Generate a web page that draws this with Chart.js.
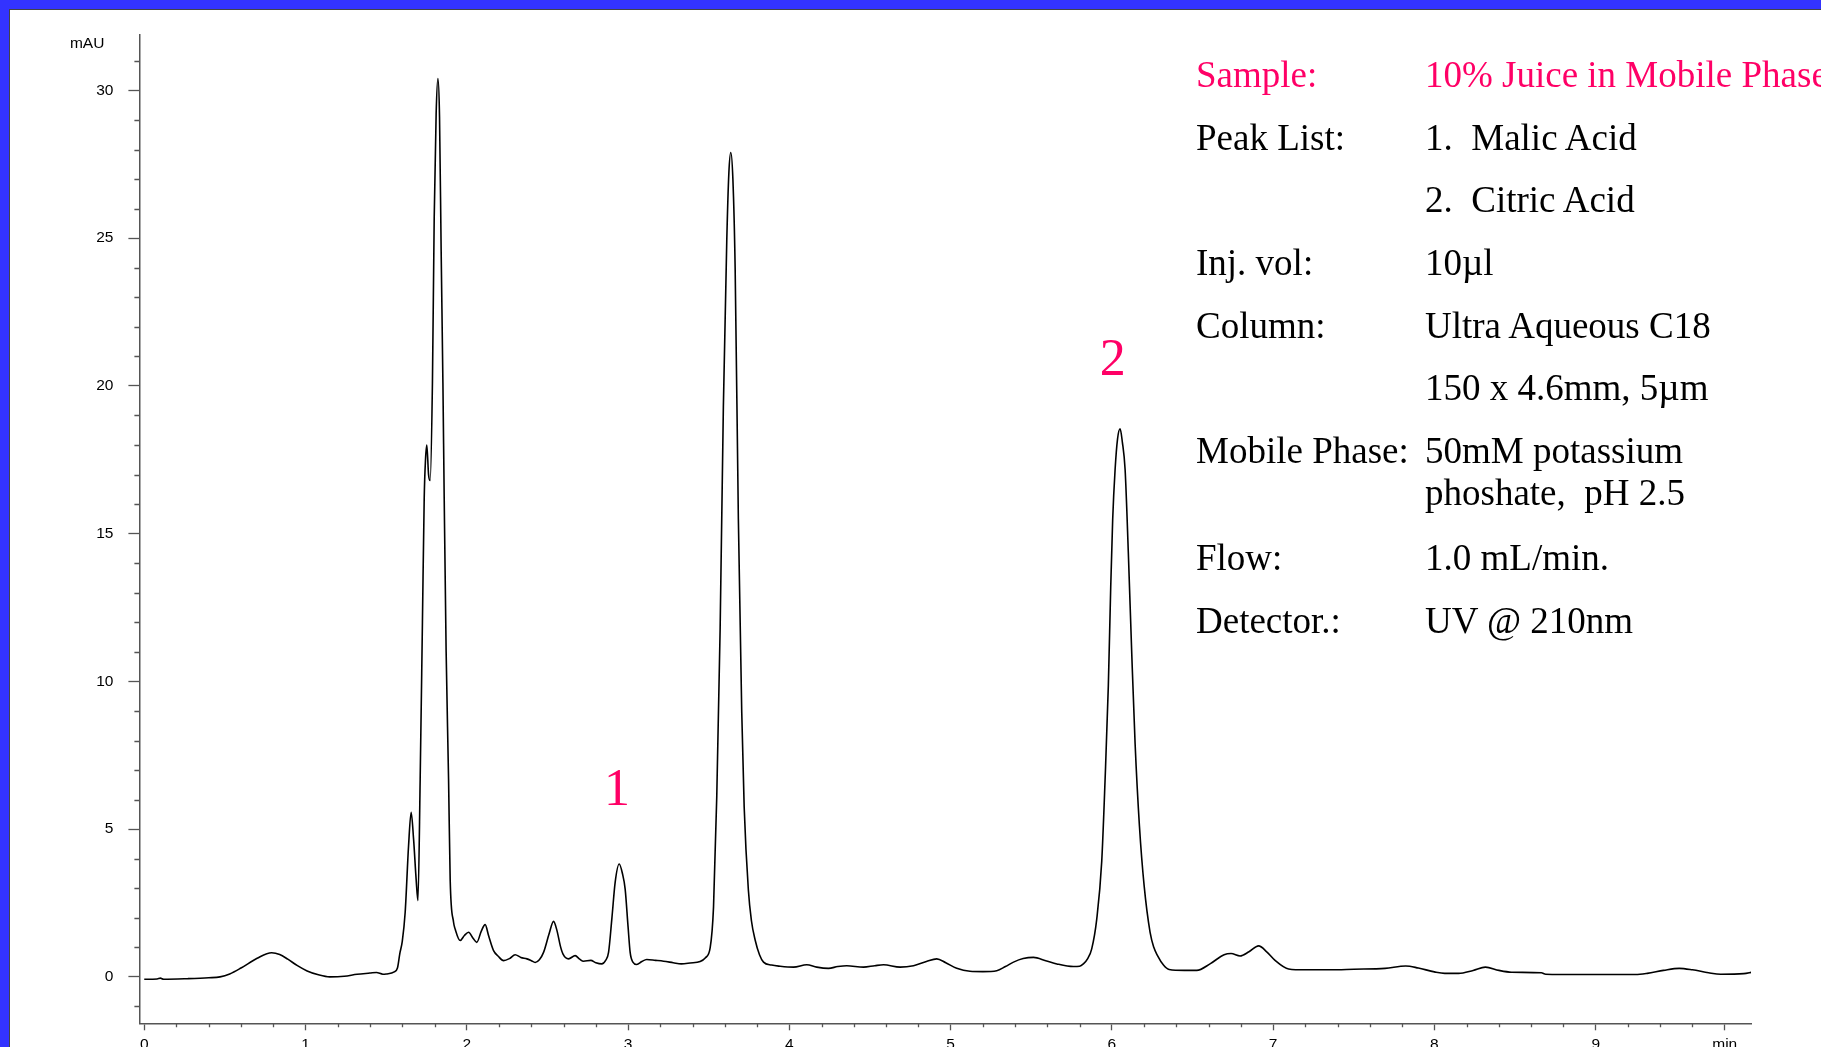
<!DOCTYPE html>
<html>
<head>
<meta charset="utf-8">
<script src="https://cdn.jsdelivr.net/npm/chart.js@4.4.1/dist/chart.umd.min.js"></script>
<style>
  html, body { margin: 0; padding: 0; width: 1821px; height: 1047px; overflow: hidden; background: #3333ff; }
  #panel { position: absolute; left: 9px; top: 9px; width: 1830px; height: 1060px; background: #fff;
           border-top: 1px solid #444; border-left: 1px solid #444; }
  #wrap { position: absolute; left: 0; top: 0; width: 1821px; height: 1075px; }
  .info { position: absolute; font-family: "Liberation Serif", "Times New Roman", serif; font-size: 37px;
          line-height: 37px; white-space: pre; color: #000; }
  .pink { color: #ff0066; }
</style>
</head>
<body>
<div id="panel"></div>
<div id="wrap"><canvas id="grafico" width="1821" height="1075"></canvas></div>
<div id="info"></div>
<script>
// retention time (min) and detector signal (mAU)
const tiempo = [
  0.00, 0.08, 0.10, 0.12, 0.27, 0.40, 0.47, 0.53, 0.60, 0.70, 0.79, 0.84, 0.89, 0.95, 1.01, 1.08, 1.15, 1.24, 1.32, 1.40,
  1.44, 1.48, 1.50, 1.55, 1.57, 1.585, 1.60, 1.618, 1.639, 1.655, 1.67, 1.686, 1.697, 1.711, 1.725, 1.736, 1.744, 1.752, 1.763, 1.773,
  1.787, 1.798, 1.810, 1.821, 1.831, 1.841, 1.852, 1.860, 1.872, 1.887, 1.897, 1.918, 1.928, 1.959, 1.985, 2.011, 2.040, 2.062, 2.090, 2.114,
  2.135, 2.166, 2.195, 2.228, 2.265, 2.300, 2.335, 2.373, 2.400, 2.424, 2.450, 2.476, 2.510, 2.538, 2.560, 2.580, 2.596, 2.631, 2.672, 2.700,
  2.724, 2.769, 2.800, 2.837, 2.860, 2.879, 2.900, 2.920, 2.945, 2.965, 2.982, 3.000, 3.013, 3.030, 3.054, 3.085, 3.116, 3.17, 3.22, 3.28,
  3.33, 3.385, 3.447, 3.48, 3.509, 3.530, 3.550, 3.571, 3.591, 3.612, 3.625, 3.637, 3.650, 3.664, 3.684, 3.705, 3.720, 3.746, 3.765, 3.788,
  3.815, 3.84, 3.89, 3.943, 4.026, 4.108, 4.17, 4.243, 4.30, 4.356, 4.46, 4.53, 4.584, 4.687, 4.77, 4.85, 4.914, 4.97, 5.038, 5.12,
  5.20, 5.286, 5.34, 5.39, 5.45, 5.514, 5.59, 5.659, 5.761, 5.800, 5.823, 5.850, 5.875, 5.906, 5.937, 5.958, 5.978, 5.993, 6.005, 6.020,
  6.035, 6.051, 6.065, 6.082, 6.102, 6.123, 6.144, 6.171, 6.200, 6.237, 6.26, 6.283, 6.32, 6.355, 6.45, 6.526, 6.611, 6.696, 6.739, 6.795,
  6.85, 6.910, 6.96, 7.01, 7.096, 7.20, 7.353, 7.50, 7.694, 7.822, 7.90, 8.00, 8.064, 8.15, 8.24, 8.316, 8.40, 8.478, 8.663, 8.69,
  8.90, 9.062, 9.247, 9.32, 9.42, 9.518, 9.60, 9.70, 9.775, 9.918, 9.969
];
const señal = [
  -0.08, -0.07, -0.04, -0.08, -0.06, -0.03, 0.00, 0.10, 0.30, 0.63, 0.82, 0.76, 0.60, 0.38, 0.20, 0.07, 0.00, 0.02, 0.09, 0.13,
  0.15, 0.09, 0.10, 0.17, 0.30, 0.80, 1.20, 2.19, 4.44, 5.57, 4.67, 3.30, 2.58, 6.70, 12.0, 16.2, 17.5, 18.0, 17.0, 16.8,
  20.1, 25.7, 29.2, 30.4, 29.1, 24.6, 20.1, 16.2, 11.0, 6.7, 3.3, 1.85, 1.62, 1.23, 1.40, 1.51, 1.30, 1.17, 1.55, 1.77,
  1.40, 0.89, 0.70, 0.55, 0.62, 0.75, 0.66, 0.61, 0.55, 0.49, 0.58, 0.83, 1.45, 1.88, 1.55, 1.05, 0.78, 0.61, 0.72, 0.60,
  0.53, 0.56, 0.48, 0.44, 0.55, 0.83, 2.0, 3.2, 3.82, 3.5, 2.97, 1.7, 0.83, 0.50, 0.42, 0.52, 0.59, 0.56, 0.53, 0.48,
  0.44, 0.47, 0.52, 0.65, 0.98, 2.37, 6.1, 11.8, 19.3, 24.9, 27.2, 27.9, 27.0, 24.0, 15.5, 8.95, 5.75, 2.94, 1.9, 1.25,
  0.75, 0.50, 0.40, 0.36, 0.33, 0.41, 0.33, 0.29, 0.35, 0.38, 0.33, 0.38, 0.41, 0.33, 0.38, 0.52, 0.61, 0.48, 0.29, 0.19,
  0.18, 0.21, 0.35, 0.50, 0.62, 0.66, 0.55, 0.44, 0.35, 0.36, 0.44, 0.62, 0.95, 1.95, 3.9, 6.69, 9.85, 13.23, 15.48, 17.17,
  18.2, 18.55, 18.1, 17.17, 14.36, 10.98, 7.9, 5.1, 3.09, 1.51, 1.0, 0.72, 0.40, 0.25, 0.22, 0.22, 0.45, 0.75, 0.79, 0.71,
  0.85, 1.05, 0.85, 0.57, 0.27, 0.24, 0.24, 0.26, 0.29, 0.37, 0.30, 0.17, 0.12, 0.12, 0.22, 0.33, 0.22, 0.16, 0.14, 0.09,
  0.08, 0.08, 0.08, 0.12, 0.22, 0.29, 0.24, 0.14, 0.09, 0.11, 0.16
];

// peak numbers: label, time, height of the label baseline
const picos = ['1', '2'];
const picosTiempo = [2.932, 6.005];
const picosAltura = [5.82, 20.37];

// method details shown at the right
const etiquetas = ['Sample:', 'Peak List:', '', 'Inj. vol:', 'Column:', '', 'Mobile Phase:', '', 'Flow:', 'Detector.:'];
const valores = ['10% Juice in Mobile Phase', '1.  Malic Acid', '2.  Citric Acid', '10µl', 'Ultra Aqueous C18',
  '150 x 4.6mm, 5µm', '50mM potassium', 'phoshate,  pH 2.5', '1.0 mL/min.', 'UV @ 210nm'];
const lineasBase = [87, 149.5, 212, 275, 337.5, 400, 462.5, 505, 570, 632.5];

const info = document.getElementById('info');
etiquetas.forEach((txt, i) => {
  const top = (lineasBase[i] - 31) + 'px';
  const clase = i === 0 ? 'info pink' : 'info';
  if (txt) info.insertAdjacentHTML('beforeend', `<div class="${clase}" style="left:1196px;top:${top}">${txt}</div>`);
  info.insertAdjacentHTML('beforeend', `<div class="${clase}" style="left:1425px;top:${top}">${valores[i]}</div>`);
});

const esEntero = v => Math.abs(v - Math.round(v)) < 1e-6;
const esMayorX = v => esEntero(v) || Math.abs(v - 9.8) < 1e-6;
const esMayorY = v => esEntero(v / 5);
const colorEje = '#555';

// minor tick marks, peak numbers and the unit label
const extras = {
  id: 'extras',
  afterDraw(chart) {
    const {ctx, chartArea, scales: {x, y}} = chart;
    ctx.save();
    ctx.strokeStyle = colorEje;
    ctx.lineWidth = 1.3;
    ctx.beginPath();
    x.ticks.forEach(t => {
      if (esMayorX(t.value)) return;
      const px = Math.round(x.getPixelForValue(t.value)) + 0.5;
      ctx.moveTo(px, chartArea.bottom);
      ctx.lineTo(px, chartArea.bottom + 4);
    });
    y.ticks.forEach(t => {
      if (esMayorY(t.value)) return;
      const py = Math.round(y.getPixelForValue(t.value)) + 0.5;
      ctx.moveTo(chartArea.left, py);
      ctx.lineTo(chartArea.left - 5, py);
    });
    ctx.stroke();

    ctx.fillStyle = '#ff0066';
    ctx.font = '52px "Liberation Serif"';
    ctx.textAlign = 'center';
    ctx.textBaseline = 'alphabetic';
    picos.forEach((p, i) => {
      ctx.fillText(p, x.getPixelForValue(picosTiempo[i]), y.getPixelForValue(picosAltura[i]));
    });

    ctx.fillStyle = '#000';
    ctx.font = '15.5px "Liberation Sans"';
    ctx.textAlign = 'right';
    ctx.fillText('mAU', chartArea.left - 35, chartArea.top + 14);
    ctx.restore();
  }
};

const ctxCroma = document.getElementById('grafico').getContext('2d');
new Chart(ctxCroma, {
  type: 'line',
  data: {
    datasets: [{
      label: 'mAU',
      data: tiempo.map((t, i) => ({x: t, y: señal[i]})),
      borderColor: '#000',
      borderWidth: 1.6,
      pointRadius: 0,
      cubicInterpolationMode: 'monotone',
      fill: false
    }]
  },
  options: {
    responsive: false,
    animation: false,
    layout: { padding: { left: 0, top: 34.3, right: 70, bottom: 0 } },
    plugins: { legend: { display: false }, tooltip: { enabled: false } },
    scales: {
      x: {
        type: 'linear',
        min: -0.03,
        max: 9.963,
        afterFit: s => { s.height = 51.7; },
        border: { display: true, color: colorEje, width: 1.5 },
        grid: {
          display: true, drawOnChartArea: false, tickLength: 7, tickWidth: 1.3,
          tickColor: c => esMayorX(c.tick.value) ? colorEje : 'rgba(0,0,0,0)'
        },
        ticks: {
          stepSize: 0.2, maxTicksLimit: 1000, includeBounds: false, autoSkip: false, maxRotation: 0,
          padding: 5, color: '#000', font: { family: 'Liberation Sans', size: 15.5 },
          callback: v => Math.abs(v - 9.8) < 1e-6 ? 'min' : (esEntero(v) ? String(Math.round(v)) : '')
        }
      },
      y: {
        type: 'linear',
        min: -1.57,
        max: 31.9,
        afterFit: s => { s.width = 139.4; },
        border: { display: true, color: colorEje, width: 1.5 },
        grid: {
          display: true, drawOnChartArea: false, tickLength: 11, tickWidth: 1.3,
          tickColor: c => esMayorY(c.tick.value) ? colorEje : 'rgba(0,0,0,0)'
        },
        ticks: {
          stepSize: 1, maxTicksLimit: 1000, includeBounds: false, autoSkip: false,
          padding: 15, color: '#000', font: { family: 'Liberation Sans', size: 15.5 },
          callback: v => esMayorY(v) ? String(Math.round(v)) : ''
        }
      }
    }
  },
  plugins: [extras]
});
</script>
</body>
</html>
